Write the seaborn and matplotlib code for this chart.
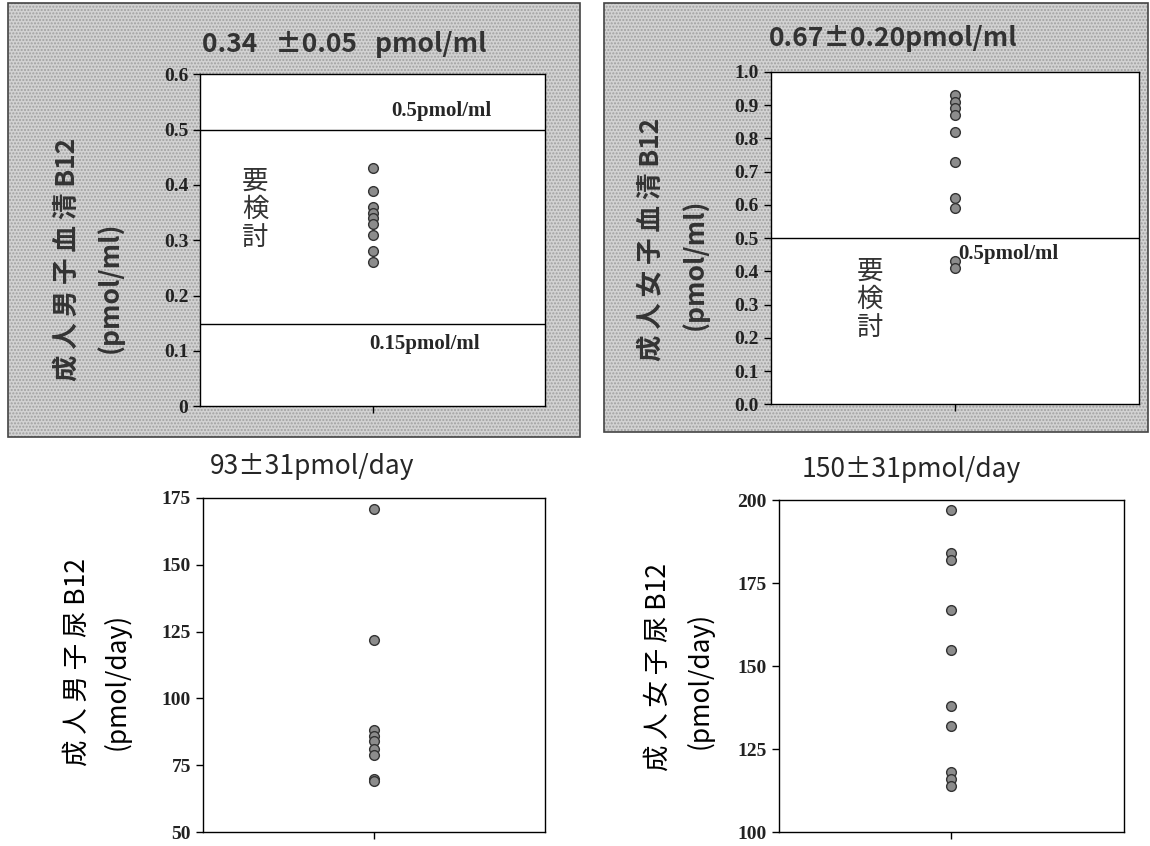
import numpy as np
import pandas as pd
import seaborn as sns
import matplotlib.pyplot as plt
from matplotlib.patches import Rectangle

# values
male_serum = [0.43, 0.39, 0.36, 0.35, 0.34, 0.33, 0.31, 0.28, 0.26]
female_serum = [0.93, 0.91, 0.89, 0.87, 0.82, 0.73, 0.62, 0.59, 0.43, 0.41]
male_urine = [171, 122, 88, 86, 84, 81, 79, 70, 69]
female_urine = [197, 184, 182, 167, 155, 138, 132, 118, 116, 114]

titles = ['0.34   ±0.05   pmol/ml', '0.67±0.20pmol/ml', '93±31pmol/day', '150±31pmol/day']
ylabels = ['成 人 男 子 血 清 B12', '成 人 女 子 血 清 B12', '成 人 男 子 尿 B12', '成 人 女 子 尿 B12']
yunits = ['(pmol/ml)', '(pmol/ml)', '(pmol/day)', '(pmol/day)']
male_serum_ticks = [0, 0.1, 0.2, 0.3, 0.4, 0.5, 0.6]
male_serum_ticklabels = ['0', '0.1', '0.2', '0.3', '0.4', '0.5', '0.6']
female_serum_ticks = [0.0, 0.1, 0.2, 0.3, 0.4, 0.5, 0.6, 0.7, 0.8, 0.9, 1.0]
female_serum_ticklabels = ['0.0', '0.1', '0.2', '0.3', '0.4', '0.5', '0.6', '0.7', '0.8', '0.9', '1.0']
male_urine_ticks = [50, 75, 100, 125, 150, 175]
female_urine_ticks = [100, 125, 150, 175, 200]

sns.set_style('ticks')
plt.rcParams['font.family'] = ['Noto Sans CJK JP', 'DejaVu Sans']
serif = ['Liberation Serif', 'DejaVu Serif']
jp = ['Noto Sans CJK JP', 'DejaVu Sans']

fig = plt.figure(figsize=(11.5, 8.46), dpi=100)

# stippled grey panels behind the two serum charts
for (x0, y0, w, h) in [(0.007, 0.484, 0.497, 0.512), (0.525, 0.489, 0.473, 0.507)]:
    fig.patches.append(Rectangle((x0, y0), w, h, transform=fig.transFigure,
                                 facecolor='#d2d2d2', edgecolor='#a0a0a0',
                                 hatch='.....', linewidth=0, zorder=-2))
    fig.patches.append(Rectangle((x0, y0), w, h, transform=fig.transFigure,
                                 fill=False, edgecolor='#444444', linewidth=1.2, zorder=-1))


def strip(ax, values, ylim, ticks, ticklabels):
    ax.set_zorder(2)
    df = pd.DataFrame({'group': [''] * len(values), 'value': values})
    sns.stripplot(data=df, x='group', y='value', ax=ax, jitter=False, size=7,
                  color='#8c8c8c', edgecolor='#333333', linewidth=1, zorder=3)
    ax.set_ylim(*ylim)
    ax.set_xlim(-0.5, 0.5)
    ax.set_yticks(ticks)
    ax.set_yticklabels(ticklabels)
    for lab in ax.get_yticklabels():
        lab.set_fontfamily(serif)
        lab.set_fontweight('bold')
        lab.set_fontsize(14)
        lab.set_color('#222222')
    ax.set_xticks([0])
    ax.set_xticklabels([''])
    ax.tick_params(axis='both', direction='out', length=5, width=1, color='black')
    ax.set_xlabel('')
    ax.set_ylabel('')
    ax.set_facecolor('white')
    for s in ax.spines.values():
        s.set_visible(True)
        s.set_color('black')
        s.set_linewidth(1)


def ylab(x1, y1, x2, y2, i, color, weight):
    # two-line vertical label: main text and unit in separate sizes
    fig.text(x1, y1, ylabels[i], rotation=90, ha='center', va='center',
             fontsize=19, fontweight=weight, color=color)
    fig.text(x2, y2, yunits[i], rotation=90, ha='center', va='center',
             fontsize=19, fontweight=weight, color=color)


# top-left: adult male serum
ax1 = fig.add_axes([0.174, 0.520, 0.300, 0.392])
strip(ax1, male_serum, (0, 0.6), male_serum_ticks, male_serum_ticklabels)
ax1.axhline(0.5, color='black', lw=1)
ax1.axhline(0.148, color='black', lw=1)
ax1.text(0.70, 0.515, '0.5pmol/ml', transform=ax1.get_yaxis_transform(), ha='center', va='bottom',
         fontfamily=serif, fontweight='bold', fontsize=15)
ax1.text(0.652, 0.112, '0.15pmol/ml', transform=ax1.get_yaxis_transform(), ha='center', va='center',
         fontfamily=serif, fontweight='bold', fontsize=15)
ax1.text(0.16, 0.356, '要\n検\n討', transform=ax1.get_yaxis_transform(), ha='center', va='center',
         fontfamily=jp, fontsize=19, linespacing=1.05, color='#333333')
ylab(0.0583, 0.6939, 0.0957, 0.6608, 0, '#333333', 'bold')
fig.text(0.299, 0.947, titles[0], ha='center', va='center', fontsize=19, fontweight='bold', color='#333333')

# top-right: adult female serum
ax2 = fig.add_axes([0.670, 0.522, 0.320, 0.393])
strip(ax2, female_serum, (0, 1.0), female_serum_ticks, female_serum_ticklabels)
ax2.axhline(0.5, color='black', lw=1)
ax2.text(0.647, 0.452, '0.5pmol/ml', transform=ax2.get_yaxis_transform(), ha='center', va='center',
         fontfamily=serif, fontweight='bold', fontsize=15)
ax2.text(0.27, 0.316, '要\n検\n討', transform=ax2.get_yaxis_transform(), ha='center', va='center',
         fontfamily=jp, fontsize=19, linespacing=1.05, color='#333333')
ylab(0.567, 0.7175, 0.6043, 0.6879, 1, '#333333', 'bold')
fig.text(0.7765, 0.955, titles[1], ha='center', va='center', fontsize=19, fontweight='bold', color='#333333')

# bottom-left: adult male urine
ax3 = fig.add_axes([0.1765, 0.0165, 0.297, 0.395])
strip(ax3, male_urine, (50, 175), male_urine_ticks, [str(t) for t in male_urine_ticks])
ylab(0.067, 0.2175, 0.1017, 0.195, 2, 'black', 'normal')
fig.text(0.2713, 0.448, titles[2], ha='center', va='center', fontsize=19)

# bottom-right: adult female urine
ax4 = fig.add_axes([0.677, 0.0165, 0.300, 0.392])
strip(ax4, female_urine, (100, 200), female_urine_ticks, [str(t) for t in female_urine_ticks])
ylab(0.5722, 0.2116, 0.6087, 0.1962, 3, 'black', 'normal')
fig.text(0.792, 0.4456, titles[3], ha='center', va='center', fontsize=19)

plt.savefig('out.png', dpi=100)
